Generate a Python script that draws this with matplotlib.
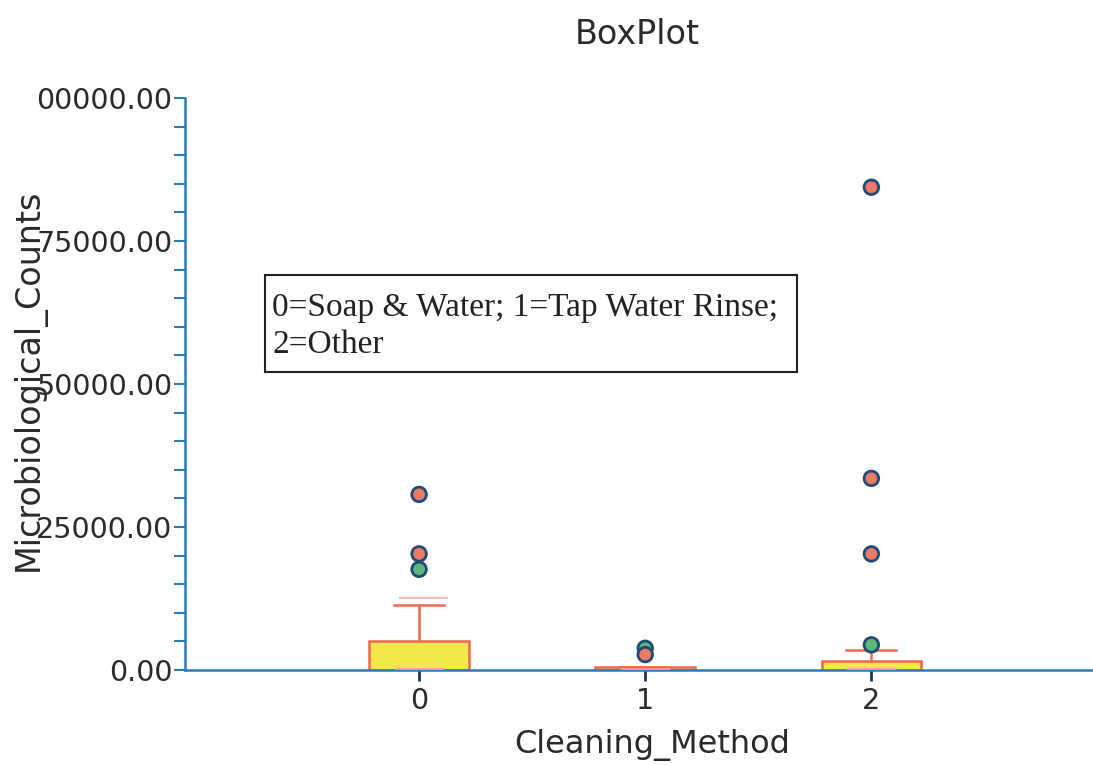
import matplotlib.pyplot as plt
from matplotlib.patches import Rectangle

# box summaries (counts)
groups = [0, 1, 2]
q1 = [0, 0, 0]
med = [200, 100, 150]
q3 = [5100, 500, 1600]
whis_hi = [11300, 500, 3500]
extra_line = [12600, None, None]   # faint pink line above group 0 whisker

# outliers: (group, value, colour key)
out_group = [0, 0, 0, 1, 1, 2, 2, 2, 2]
out_value = [30700, 20300, 17600, 3800, 2700, 4400, 20300, 33500, 84400]
out_kind = ["r", "r", "g", "g", "r", "g", "r", "r", "r"]

ytick_vals = [0, 25000, 50000, 75000, 100000]
ytick_text = ["0.00", "25000.00", "50000.00", "75000.00", "00000.00"]

spine_col = "#2b7bb9"
box_fill = "#f3e84a"
box_edge = "#f0694f"
red_pt = "#ef7a63"
green_pt = "#5cb87a"
pt_edge = "#1f4a78"

fig = plt.figure(figsize=(10.93, 7.65), dpi=100)
ax = fig.add_axes([185/1093, 1-670/765, 1-185/1093, (670-98)/765])

stats = []
for i in range(len(groups)):
    stats.append({"med": med[i], "q1": q1[i], "q3": q3[i],
                  "whislo": q1[i], "whishi": whis_hi[i], "fliers": []})

ax.bxp(stats, positions=groups, widths=0.44, capwidths=0.22, patch_artist=True,
       showfliers=False,
       boxprops=dict(facecolor=box_fill, edgecolor=box_edge, linewidth=1.8),
       whiskerprops=dict(color=box_edge, linewidth=1.8),
       capprops=dict(color=box_edge, linewidth=1.8),
       medianprops=dict(linewidth=0))

# short median marks
for i, g in enumerate(groups):
    ax.hlines(med[i], g-0.11, g+0.11, color="#f59a9a", linewidth=2, zorder=4)
    if extra_line[i] is not None:
        ax.hlines(extra_line[i], g-0.09, g+0.13, color="#f6b9b9", linewidth=1.5)

cols = [red_pt if k == "r" else green_pt for k in out_kind]
ax.scatter(out_group, out_value, s=110, c=cols, edgecolors=pt_edge, linewidths=2, zorder=5)

ax.set_xlim(-1.035, 2.98)
ax.set_ylim(0, 100000)
ax.set_yticks(ytick_vals)
ax.set_yticklabels(ytick_text)
ax.set_yticks(range(5000, 100000, 5000), minor=True)
ax.set_xticks(groups)
ax.set_xticklabels([str(g) for g in groups])

for s in ["top", "right"]:
    ax.spines[s].set_visible(False)
for s in ["left", "bottom"]:
    ax.spines[s].set_color(spine_col)
    ax.spines[s].set_linewidth(1.8)

ax.tick_params(axis="y", which="both", direction="out", length=8, width=1.5,
               color=spine_col, labelsize=20.5, labelcolor="#2a2a2a", pad=1)
ax.tick_params(axis="x", direction="out", length=8, width=2, color="#1f3550",
               labelsize=20.5, labelcolor="#2a2a2a", pad=4)

fig.text(0.026, 0.503, "Microbiological_Counts", rotation=90, ha="center", va="center",
         fontsize=24, color="#2a2a2a")
fig.text(652/1093, 1-745/765, "Cleaning_Method", ha="center", va="center",
         fontsize=23, color="#2a2a2a")
fig.text(637/1093, 1-35/765, "BoxPlot", ha="center", va="center",
         fontsize=24, color="#2a2a2a")

# annotation box
fig.patches.append(Rectangle((265/1093, 1-372/765), (797-265)/1093, (372-275)/765,
                             transform=fig.transFigure, fill=False, edgecolor="#222222",
                             linewidth=1.5))
fig.text(272/1093, 1-308/765, "0=Soap & Water; 1=Tap Water Rinse;", ha="left", va="center",
         fontsize=24, family="Liberation Serif", color="#222222")
fig.text(272/1093, 1-345/765, "2=Other", ha="left", va="center",
         fontsize=24, family="Liberation Serif", color="#222222")

fig.savefig("out.png", dpi=100)
